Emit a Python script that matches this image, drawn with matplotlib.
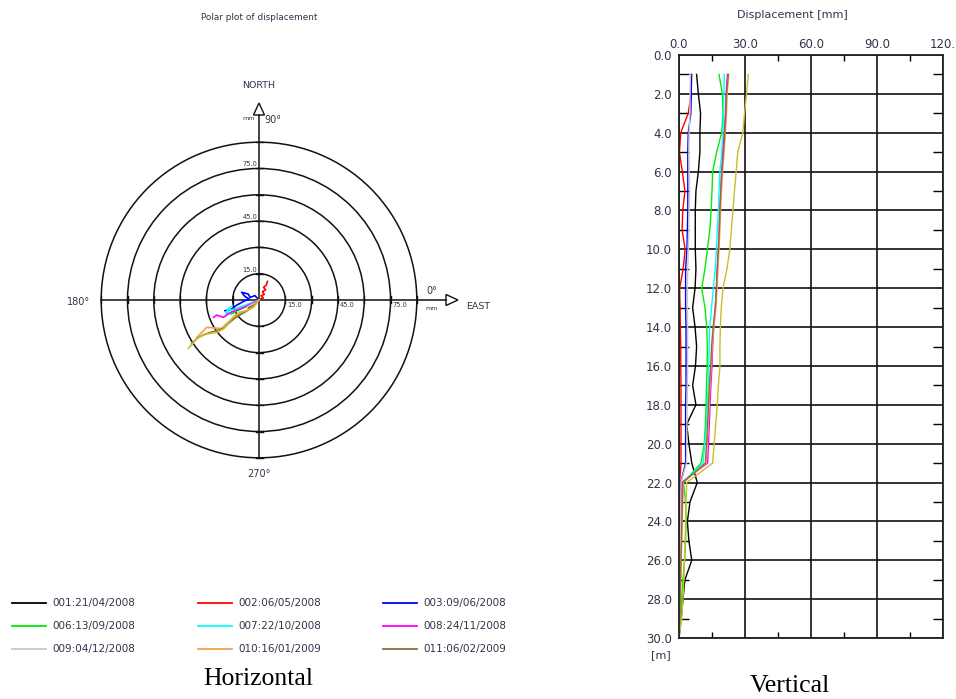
import matplotlib
matplotlib.use('Agg')
import matplotlib.pyplot as plt
from matplotlib.patches import Circle, Polygon

# ---------------- data ----------------
series_names = ["001:21/04/2008", "002:06/05/2008", "003:09/06/2008",
                "006:13/09/2008", "007:22/10/2008", "008:24/11/2008",
                "009:04/12/2008", "010:16/01/2009", "011:06/02/2009", "012"]
series_colors = ["#000000", "#ff0000", "#0000ff", "#00ee00", "#00ffff",
                 "#ff00ff", "#c8c8c8", "#f5a050", "#9a6a3c", "#c8bf2a"]
legend_count = 9

# polar (horizontal) traces, East / North components in mm
pol_e = [
    [0, -1.5, -3.0, -4.5, -6.0],
    [0, 1.0, 2.5, 1.2, 3.0, 2.0, 3.8, 2.6, 4.2, 4.8],
    [0, -2.3, -5.1, -6.1, -9.9, -8.0, -5.5, -8.0, -12.7, -15.6, -19.4],
    [0, -4.0, -8.0, -11.0, -14.0, -16.0],
    [0, -4.0, -8.0, -12.0, -15.0, -17.0, -16.0, -18.0, -19.0, -17.5],
    [0, -4.0, -8.0, -12.0, -16.0, -20.3, -22.2, -24.0, -26.0],
    [0, -2.0, -4.0, -6.5],
    [0, -3.0, -7.0, -11.0, -15.0, -18.0, -21.3, -25.0, -29.8, -33.6, -35.5],
    [0, -3.0, -6.5, -10.0, -14.0, -17.0, -20.0, -24.0, -28.0, -32.0, -35.5, -38.4],
    [0, -3.2, -7.0, -10.8, -14.0, -16.5, -20.3, -24.1, -29.8, -33.0, -35.6, -40.3],
]
pol_n = [
    [0, -1.0, -2.5, -3.5, -4.5],
    [0, 0.6, 1.2, 2.4, 3.2, 4.8, 5.8, 7.2, 8.6, 10.6],
    [0, 2.5, 1.5, 3.4, 4.4, 2.0, 0.5, -0.4, -2.9, -5.1, -6.1],
    [0, -2.0, -4.0, -5.5, -7.0, -8.0],
    [0, -1.5, -3.0, -4.5, -5.5, -6.0, -3.8, -5.5, -8.0, -7.0],
    [0, -2.0, -4.0, -5.5, -7.0, -9.9, -9.3, -8.6, -9.9],
    [0, -1.5, -2.5, -4.0],
    [0, -3.0, -6.0, -8.0, -10.5, -13.0, -16.2, -16.0, -15.6, -19.4, -21.3],
    [0, -3.5, -6.0, -8.0, -10.5, -13.0, -16.0, -17.5, -18.5, -20.0, -22.0, -25.0],
    [0, -4.2, -6.0, -7.0, -9.0, -11.8, -16.5, -18.4, -19.4, -20.5, -22.2, -27.6],
]
ring_values = [15, 30, 45, 60, 75, 90]
ring_labels = [15, 45, 75]

# vertical profiles: displacement [mm] at depth [m]
depth_m = [1.0, 2.0, 3.0, 4.0, 5.0, 6.0, 7.0, 8.0, 9.0, 10.0,
           11.0, 12.0, 13.0, 14.0, 15.0, 16.0, 17.0, 18.0, 19.0, 20.0,
           21.0, 22.0, 23.0, 24.0, 25.0, 26.0, 27.0, 28.0, 29.0, 30.0]
disp_001 = [8.0, 8.8, 9.8, 9.5, 9.5, 8.8, 7.7, 7.4, 7.4, 7.4, 7.7, 7.3, 6.2, 7.3, 8.0,
            7.5, 6.2, 7.7, 3.5, 4.5, 5.8, 8.3, 5.0, 3.8, 4.5, 5.8, 2.7, 1.8, 1.0, 0.0]
disp_002 = [5.8, 5.5, 4.2, 0.8, 0.2, 1.5, 2.7, 1.7, 1.4, 2.8, 1.9, 0.3, 0.5, 0.6, 0.8,
            0.8, 0.9, 0.9, 0.9, 0.9, 0.9, 0.3, 0.4, 0.5, 0.4, 0.4, 0.3, 0.3, 0.2, 0.0]
disp_003 = [5.6, 5.6, 5.4, 4.2, 4.0, 4.0, 4.0, 4.0, 3.8, 3.6, 3.0, 3.0, 3.0, 3.2, 3.2,
            3.2, 3.2, 3.0, 3.0, 3.0, 3.0, 0.8, 0.6, 0.5, 0.5, 0.4, 0.4, 0.3, 0.2, 0.0]
disp_006 = [18.2, 19.7, 20.0, 19.4, 17.1, 15.3, 15.0, 14.6, 14.0, 12.9, 11.8, 10.3, 11.8, 12.6, 12.9,
            12.8, 12.5, 12.3, 12.0, 11.5, 10.0, 2.0, 3.0, 3.2, 3.0, 2.5, 1.8, 1.2, 0.6, 0.0]
disp_007 = [20.6, 20.4, 20.2, 20.0, 19.4, 18.6, 18.2, 17.9, 17.4, 17.0, 16.5, 15.6, 14.8, 14.0, 13.7,
            13.5, 13.2, 12.9, 12.5, 11.7, 11.0, 1.5, 1.3, 1.2, 1.0, 0.8, 0.6, 0.4, 0.2, 0.0]
disp_008 = [22.0, 21.4, 21.1, 20.6, 20.0, 19.4, 19.0, 18.6, 18.3, 17.9, 17.4, 17.0, 16.5, 15.8, 15.3,
            15.0, 14.5, 14.1, 13.8, 13.4, 13.0, 1.2, 1.0, 0.8, 0.7, 0.6, 0.5, 0.3, 0.2, 0.0]
disp_009 = [5.2, 5.0, 5.0, 4.6, 4.5, 4.6, 4.8, 4.6, 4.4, 4.2, 4.0, 3.8, 3.8, 3.9, 3.9,
            3.9, 3.8, 3.7, 3.6, 3.5, 3.4, 0.9, 0.8, 0.7, 0.6, 0.5, 0.4, 0.3, 0.2, 0.0]
disp_010 = [22.6, 21.9, 21.6, 21.1, 20.5, 19.8, 19.3, 18.9, 18.6, 18.2, 17.7, 17.3, 16.8, 15.8, 15.1,
            14.7, 14.1, 13.7, 13.3, 12.8, 12.3, 1.9, 1.7, 1.5, 1.3, 1.0, 0.8, 0.6, 0.3, 0.0]
disp_011 = [22.4, 21.6, 21.3, 20.8, 20.2, 19.5, 19.0, 18.6, 18.3, 17.9, 17.4, 17.0, 16.5, 15.5, 14.8,
            14.4, 13.8, 13.4, 13.0, 12.5, 12.0, 1.7, 1.5, 1.3, 1.1, 0.9, 0.7, 0.5, 0.3, 0.0]
disp_012 = [31.5, 30.7, 29.8, 29.0, 26.7, 26.0, 25.2, 24.5, 23.8, 23.1, 21.8, 20.0, 19.2, 18.8, 18.6,
            18.6, 17.9, 17.4, 16.7, 16.0, 15.3, 3.5, 3.2, 3.0, 2.8, 2.5, 2.2, 1.8, 1.2, 0.0]
profiles = [disp_001, disp_002, disp_003, disp_006, disp_007, disp_008,
            disp_009, disp_010, disp_011, disp_012]

x_ticks = [0, 30, 60, 90, 120]
x_tick_labels = ["0.0", "30.0", "60.0", "90.0", "120."]
x_minor = [15, 45, 75, 105]
y_ticks = [0, 2, 4, 6, 8, 10, 12, 14, 16, 18, 20, 22, 24, 26, 28, 30]
y_minor = [1, 3, 5, 7, 9, 11, 13, 15, 17, 19, 21, 23, 25, 27, 29]

# ---------------- figure ----------------
W, H = 956, 699
fig = plt.figure(figsize=(W / 100, H / 100), dpi=100)
TXT = "#33334a"


def fbox(x0, y0, x1, y1):
    return [x0 / W, 1 - y1 / H, (x1 - x0) / W, (y1 - y0) / H]


def ftext(x, y, s, **kw):
    fig.text(x / W, 1 - y / H, s, **kw)


# ---------------- polar plot ----------------
cx, cy = 259, 300
s = 26.3 / 15.0  # px per mm
bx0, by0, bx1, by1 = 30, 60, 500, 510
ax1 = fig.add_axes(fbox(bx0, by0, bx1, by1))
ax1.set_xlim((bx0 - cx) / s, (bx1 - cx) / s)
ax1.set_ylim((cy - by1) / s, (cy - by0) / s)
ax1.axis('off')


def P(x, y):
    return ((x - cx) / s, (cy - y) / s)


for r in ring_values:
    ax1.add_patch(Circle((0, 0), r, fill=False, ec="#111111", lw=1.1))
    t = 3.5 / s
    ax1.plot([-t, t], [r, r], color="#111111", lw=1.0)
    ax1.plot([-t, t], [-r, -r], color="#111111", lw=1.0)
    ax1.plot([r, r], [-t, t], color="#111111", lw=1.0)
    ax1.plot([-r, -r], [-t, t], color="#111111", lw=1.0)

rmax = ring_values[-1]
# axes lines with open arrow heads
east_base = P(446, cy)[0]
east_tip = P(458, cy)[0]
north_base = P(cx, 115)[1]
north_tip = P(cx, 103)[1]
hw = 5.5 / s
ax1.plot([-rmax, east_base], [0, 0], color="#111111", lw=1.1)
ax1.plot([0, 0], [-rmax, north_base], color="#111111", lw=1.1)
ax1.add_patch(Polygon([[east_base, -hw], [east_tip, 0], [east_base, hw]], closed=True,
                      fc="white", ec="#111111", lw=1.0))
ax1.add_patch(Polygon([[-hw, north_base], [0, north_tip], [hw, north_base]], closed=True,
                      fc="white", ec="#111111", lw=1.0))

for v in ring_labels:
    ax1.text(-1.5 / s, v + 1.0 / s, f"{v:.1f}", ha='right', va='bottom', fontsize=4.8, color=TXT)
    ax1.text(v + 1.5 / s, -2.5 / s, f"{v:.1f}", ha='left', va='top', fontsize=4.8, color=TXT)

for e, n, c in zip(pol_e, pol_n, series_colors):
    ax1.plot(e, n, color=c, lw=1.2, solid_joinstyle='round')

ftext(259, 17, "Polar plot of displacement", ha='center', va='center', fontsize=6.4, color=TXT)
ftext(259, 86, "NORTH", ha='center', va='center', fontsize=6.8, color=TXT)
ftext(255, 119, "mm", ha='right', va='center', fontsize=4.6, color=TXT)
ftext(264, 120, "90°", ha='left', va='center', fontsize=7, color=TXT)
ftext(426, 291, "0°", ha='left', va='center', fontsize=7, color=TXT)
ftext(432, 308, "mm", ha='center', va='center', fontsize=4.6, color=TXT)
ftext(466, 307, "EAST", ha='left', va='center', fontsize=6.8, color=TXT)
ftext(90, 302, "180°", ha='right', va='center', fontsize=7, color=TXT)
ftext(259, 474, "270°", ha='center', va='center', fontsize=7, color=TXT)

# ---------------- legend ----------------
col_x = [12, 198, 383]
row_y = [603, 626, 649]
for i in range(legend_count):
    r, c = divmod(i, 3)
    x0 = col_x[c]
    y0 = row_y[r]
    fig.add_artist(plt.Line2D([x0 / W, (x0 + 34) / W], [1 - y0 / H, 1 - y0 / H],
                              color=series_colors[i], lw=1.3))
    ftext(x0 + 40, y0, series_names[i], ha='left', va='center', fontsize=7.5, color=TXT)

# ---------------- vertical plot ----------------
ax2 = fig.add_axes(fbox(679, 55, 943, 638))
for prof, c in zip(profiles, series_colors):
    ax2.plot(prof, depth_m, color=c, lw=1.0)
ax2.set_xlim(x_ticks[0], x_ticks[-1])
ax2.set_ylim(y_ticks[-1], y_ticks[0])
ax2.xaxis.tick_top()
ax2.set_xticks(x_ticks)
ax2.set_xticklabels(x_tick_labels)
ax2.set_xticks(x_minor, minor=True)
ax2.set_yticks(y_ticks)
ax2.set_yticklabels([f"{v:.1f}" for v in y_ticks])
ax2.set_yticks(y_minor, minor=True)
ax2.tick_params(axis='x', which='major', length=0, pad=3, labelsize=8.5, labelcolor=TXT)
ax2.tick_params(axis='y', which='major', length=0, pad=5, labelsize=8.5, labelcolor=TXT)
ax2.tick_params(axis='x', which='minor', direction='in', top=True, bottom=True, length=4, width=1.0)
ax2.tick_params(axis='y', which='minor', direction='in', left=True, right=True, length=7, width=1.0)
ax2.grid(True, which='major', color='#111111', lw=1.2)
ax2.set_axisbelow(True)
for sp in ax2.spines.values():
    sp.set_linewidth(1.3)
    sp.set_color('#222222')

ftext(792, 15, "Displacement [mm]", ha='center', va='center', fontsize=8, color=TXT)
ftext(661, 655, "[m]", ha='center', va='center', fontsize=8, color=TXT)

# captions
ftext(258, 679, "Horizontal", ha='center', va='center', fontsize=18.5,
      family='Liberation Serif', color='black')
ftext(790, 686, "Vertical", ha='center', va='center', fontsize=18.5,
      family='Liberation Serif', color='black')

fig.savefig("out.png", dpi=100)
